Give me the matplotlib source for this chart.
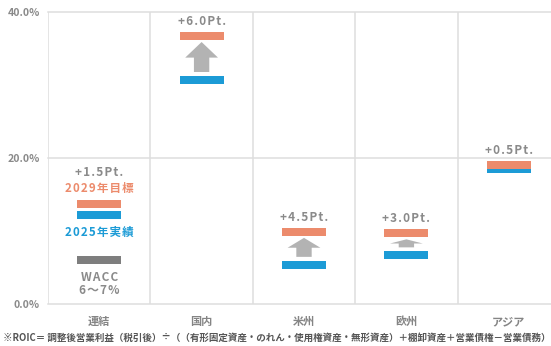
import matplotlib
matplotlib.use("Agg")
import matplotlib.pyplot as plt
from matplotlib.patches import FancyArrow

plt.rcParams['font.family'] = ['Noto Sans CJK JP', 'DejaVu Sans']

# ROIC by segment (%): FY2025 actual and FY2029 target
segments = ['連結', '国内', '米州', '欧州', 'アジア']
actual_2025 = [12.2, 30.7, 5.4, 6.7, 18.5]
gain_pt = [1.5, 6.0, 4.5, 3.0, 0.5]
target_2029 = [a + g for a, g in zip(actual_2025, gain_pt)]
wacc_value = 6.0
wacc_label = ['WACC', '6〜7%']
yticks = [0, 20, 40]
footnote = ('※ROIC＝ 調整後営業利益（税引後）÷（（有形固定資産・のれん・使用権資産・'
            '無形資産）＋棚卸資産＋営業債権－営業債務）')

ORANGE = '#EC8B6C'
BLUE = '#1C9BD6'
ARROW = '#B3B3B3'
WACC_C = '#7E7E7E'
GRID = '#DEDEDE'
TXT = '#8A8A8A'


def spaced(s):
    """Open up letter spacing with hair spaces."""
    return '\u200a'.join(s)


W, H = 551, 346
fig = plt.figure(figsize=(W / 100, H / 100), dpi=100)
ax = fig.add_axes([48 / W, 42 / H, 512 / W, 292.3 / H])
ax.set_xlim(0, len(segments))
ax.set_ylim(0, 40)
for s in ax.spines.values():
    s.set_visible(False)

# frame grid
for y in yticks:
    ax.axhline(y, color=GRID, lw=1.1, zorder=0, clip_on=False)
for i in range(len(segments)):
    ax.axvline(i, color=GRID, lw=1.1, zorder=0)

ax.set_yticks(yticks)
ax.set_yticklabels([f'{v:.1f}%' for v in yticks], fontsize=7.6, color=TXT,
                   fontweight='bold')
ax.set_xticks([i + 0.5 for i in range(len(segments))])
ax.set_xticklabels(segments, fontsize=8, color='#858585', fontweight='bold')
ax.tick_params(axis='both', length=0)
ax.tick_params(axis='y', pad=6)
ax.tick_params(axis='x', pad=8)

bw = 0.43
th = 1.1
for i, (a, t, g) in enumerate(zip(actual_2025, target_2029, gain_pt)):
    xc = i + 0.5
    ax.bar(xc, th, bottom=a - th / 2, width=bw, color=BLUE, zorder=2)
    ax.bar(xc, th, bottom=t - th / 2, width=bw, color=ORANGE, zorder=3)
    if i == 0:
        ax.text(xc, t + 4.3, spaced(f'+{g:.1f}Pt.'), ha='center', va='center',
                fontsize=8.5, color=TXT, fontweight='bold')
        ax.text(xc, t + 2.1, spaced('2029年目標'), ha='center', va='center',
                fontsize=8.3, color=ORANGE, fontweight='bold')
        ax.text(xc, a - 2.4, spaced('2025年実績'), ha='center', va='center',
                fontsize=8.3, color=BLUE, fontweight='bold')
        ax.bar(xc, th, bottom=wacc_value - th / 2, width=bw, color=WACC_C, zorder=2)
        ax.text(xc, wacc_value - 2.35, spaced(wacc_label[0]), ha='center',
                va='center', fontsize=8.5, color=TXT, fontweight='bold')
        ax.text(xc, wacc_value - 4.15, spaced(wacc_label[1]), ha='center',
                va='center', fontsize=8.5, color=TXT, fontweight='bold')
        continue
    ax.text(xc, t + th / 2 + 0.55, spaced(f'+{g:.1f}Pt.'), ha='center',
            va='bottom', fontsize=8.5, color=TXT, fontweight='bold')
    if g >= 1.0:
        y0 = a + th / 2 + 0.5
        y1 = t - th / 2 - 0.3
        L = y1 - y0
        ax.add_patch(FancyArrow(xc, y0, 0, L, width=0.15, head_width=0.32,
                                head_length=L * 0.52, length_includes_head=True,
                                color=ARROW, lw=0, zorder=2))

fig.text(3 / W, 8 / H, footnote, fontsize=6.85, color='#555555',
         fontweight='bold', ha='left', va='center')

fig.savefig('out.png', dpi=100)
